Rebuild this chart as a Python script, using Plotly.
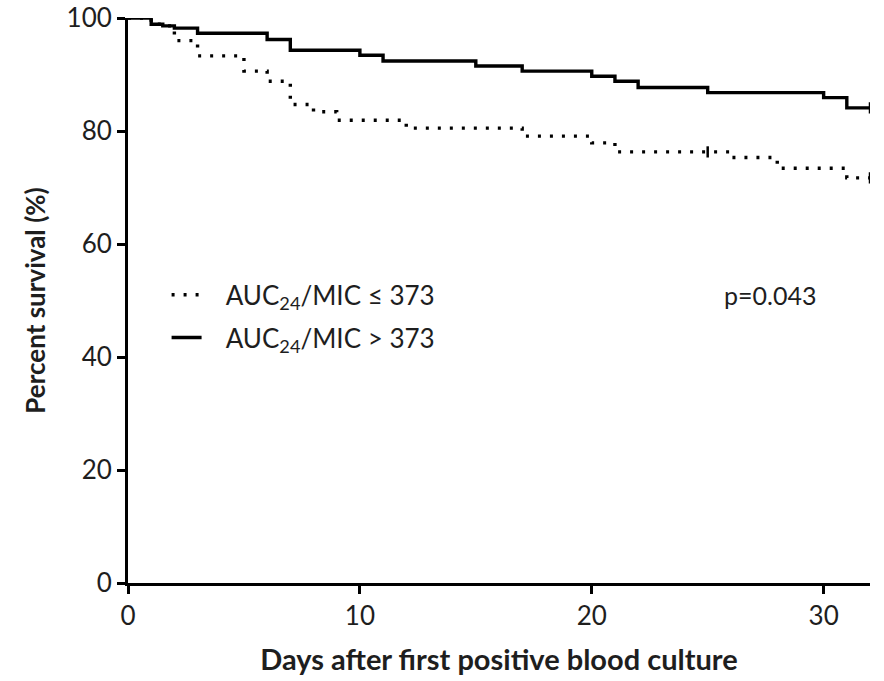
import plotly.graph_objects as go

# Kaplan-Meier steps (day, percent survival)
high_days = [0, 1, 1.5, 2, 3, 6, 7, 10, 11, 15, 17, 20, 21, 22, 25, 30, 31, 32]
high_surv = [100, 98.9, 98.6, 98.2, 97.3, 96.2, 94.3, 93.4, 92.4, 91.5, 90.6, 89.7, 88.8, 87.7, 86.8, 85.9, 84.1, 84.1]

low_days = [0, 1, 1.5, 2, 3, 5, 6, 7, 8, 9, 12, 17, 20, 21, 26, 28, 31, 32]
low_surv = [100, 98.9, 98.6, 96.0, 93.3, 90.6, 88.8, 84.7, 83.4, 81.9, 80.5, 79.1, 77.9, 76.3, 75.3, 73.4, 71.7, 71.7]

# censored observations
high_cens_days = [32]
high_cens_surv = [84.1]
low_cens_days = [25, 32]
low_cens_surv = [76.3, 71.7]

x_ticks = [0, 10, 20, 30]
y_ticks = [0, 20, 40, 60, 80, 100]

FONT = "Lato"
TXT = "#1e1e1e"
PAD = "\u00a0\u00a0\u00a0"

fig = go.Figure()
fig.add_trace(go.Scatter(
    x=low_days, y=low_surv, mode="lines", line_shape="hv",
    line=dict(color="black", width=3.4, dash="3px,9px"),
    name=PAD + "AUC<sub>24</sub>/MIC ≤ 373", legendgroup="a"))
fig.add_trace(go.Scatter(
    x=high_days, y=high_surv, mode="lines", line_shape="hv",
    line=dict(color="black", width=3.4),
    name=PAD + "AUC<sub>24</sub>/MIC > 373", legendgroup="b"))
fig.add_trace(go.Scatter(
    x=low_cens_days, y=low_cens_surv, mode="markers", showlegend=False,
    marker=dict(symbol="line-ns", size=8, line=dict(color="black", width=2.5))))
fig.add_trace(go.Scatter(
    x=high_cens_days, y=high_cens_surv, mode="markers", showlegend=False,
    marker=dict(symbol="line-ns", size=8, line=dict(color="black", width=2.5))))

fig.add_annotation(x=27.7, y=51.0, xref="x", yref="y", text="p=0.043",
                   showarrow=False, font=dict(family=FONT, size=25, color=TXT))

fig.update_layout(
    width=884, height=681,
    margin=dict(l=128, r=14, t=18, b=98),
    paper_bgcolor="white", plot_bgcolor="white",
    font=dict(family=FONT, color=TXT),
    showlegend=True,
    legend=dict(x=0.052, y=0.472, xanchor="left", yanchor="middle",
                font=dict(family=FONT, size=26, color=TXT),
                bgcolor="rgba(0,0,0,0)", traceorder="grouped",
                tracegroupgap=6, itemwidth=30),
    xaxis=dict(range=[0, 32], tickvals=x_ticks, showline=True, linecolor="black",
               linewidth=3, ticks="outside", ticklen=8, tickwidth=3, tickcolor="black",
               showgrid=False, zeroline=False, automargin=False, ticklabeloverflow="allow",
               tickfont=dict(family=FONT, size=26, color=TXT),
               title=dict(text="<b>Days after first positive blood culture</b>",
                          font=dict(family=FONT, size=29, color=TXT), standoff=20)),
    yaxis=dict(range=[0, 100], tickvals=y_ticks, showline=True, linecolor="black",
               linewidth=3, ticks="outside", ticklen=8, tickwidth=3, tickcolor="black",
               showgrid=False, zeroline=False, automargin=False, ticklabeloverflow="allow",
               tickfont=dict(family=FONT, size=26, color=TXT),
               title=dict(text="<b>Percent survival (%)</b>",
                          font=dict(family=FONT, size=26, color=TXT), standoff=14)),
)

fig.write_html("out.html", config={"displayModeBar": False},
               post_script="document.body.style.margin='0';")
